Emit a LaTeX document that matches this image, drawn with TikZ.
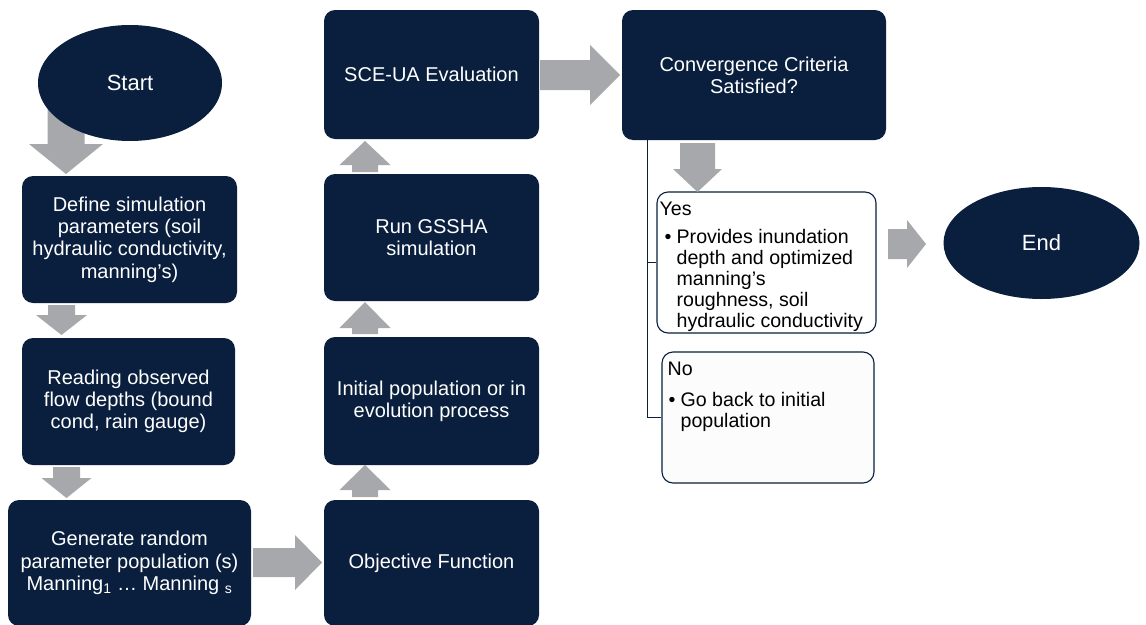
\documentclass[tikz,border=0pt]{standalone}
\usepackage{fontspec}
\setmainfont{Liberation Sans}
\usetikzlibrary{shapes.geometric,calc}
\definecolor{navy}{RGB}{10,31,62}
\definecolor{arrowgray}{RGB}{167,168,171}
\newcommand{\vblock}[6]{% cx, shaft end, head base, tip, half shaft, half head
  \fill[arrowgray] ({#1-#5},#2) -- ({#1+#5},#2) -- ({#1+#5},#3) -- ({#1+#6},#3) -- (#1,#4) -- ({#1-#6},#3) -- ({#1-#5},#3) -- cycle;}
\newcommand{\hblock}[6]{% cy, shaft start, head base, tip, half shaft, half head
  \fill[arrowgray] (#2,{#1-#5}) -- (#3,{#1-#5}) -- (#3,{#1-#6}) -- (#4,#1) -- (#3,{#1+#6}) -- (#3,{#1+#5}) -- (#2,{#1+#5}) -- cycle;}
\newcommand{\bulitem}[2]{\makebox[#2][l]{\hspace{#1}\textbullet}}
\begin{document}
\begin{tikzpicture}[x=1pt,y=-1pt,
  navybox/.style={draw=none,fill=navy,rounded corners=11pt,text=white,align=center,inner sep=2pt,
    font=\fontsize{20}{22.3}\selectfont},
  navyell/.style={ellipse,fill=navy,text=white,inner sep=0pt,font=\fontsize{22}{26}\selectfont},
  whitebox/.style={draw=navy,line width=1.1pt,fill=white,rounded corners=11pt,inner sep=0pt},
  boxtext/.style={anchor=north west,align=left,inner sep=0pt,text=black,font=\fontsize{19.6}{21}\selectfont},
  branch/.style={draw=navy,line width=1.3pt}]
\useasboundingbox (0,0) rectangle (1146,624);
\fill[white] (0,0) rectangle (1146,624);

% arrow behind start ellipse
\vblock{66}{105}{144}{174}{18.5}{37}

\node[navyell,minimum width=184pt,minimum height=116pt] (start) at (130,83) {Start};

\node[navybox,minimum width=215pt,minimum height=127pt] (def) at (129.5,239.5)
  {Define simulation\\parameters (soil\\hydraulic conductivity,\\manning’s)};
\node[navybox,minimum width=213pt,minimum height=127pt] (read) at (128.5,401.5)
  {Reading observed\\flow depths (bound\\cond, rain gauge)};
\node[navybox,minimum width=243pt,minimum height=126pt] (gen) at (129.5,563)
  {Generate random\\parameter population (s)\\Manning\textsubscript{1} … Manning \textsubscript{s}};
\node[navybox,minimum width=215pt,minimum height=126pt] (obj) at (431.5,563) {Objective Function};
\node[navybox,minimum width=215pt,minimum height=128pt] (init) at (431.5,401)
  {Initial population or in\\evolution process};
\node[navybox,minimum width=215pt,minimum height=127pt] (run) at (431.5,237.5)
  {Run GSSHA\\simulation};
\node[navybox,minimum width=215pt,minimum height=129pt] (sce) at (431.5,74.5) {SCE-UA Evaluation};
\node[navybox,minimum width=264pt,minimum height=130pt] (conv) at (754,75)
  {Convergence Criteria\\Satisfied?};
\node[whitebox,minimum width=219pt,minimum height=141pt] (yes) at (766.5,262.5) {};
\node[whitebox,fill=black!1,minimum width=212pt,minimum height=131pt] (no) at (768,417.5) {};
\node[navyell,minimum width=196pt,minimum height=112pt] (end) at (1041.5,243) {End};

% texts of the Yes / No boxes
\node[boxtext] (yestxt) at ($(yes.north west)+(3pt,-10pt)$)
  {Yes\\[7pt]%
   \bulitem{5pt}{17pt}Provides inundation\\
   \hspace*{17pt}depth and optimized\\
   \hspace*{17pt}manning’s\\
   \hspace*{17pt}roughness, soil\\
   \hspace*{17pt}hydraulic conductivity};
\node[boxtext] (notxt) at ($(no.north west)+(6pt,-10pt)$)
  {No\\[10pt]%
   \bulitem{1pt}{13pt}Go back to initial\\
   \hspace*{13pt}population};

% branch connector
\coordinate (cb) at ($(conv.south west)+(26pt,0)$);
\draw[branch] (cb) |- (yes.west);
\draw[branch] (cb) |- (no.west);

% block arrows
\vblock{61.5}{305}{315}{335}{13.5}{25.5}
\vblock{66.5}{467}{478}{498}{13.5}{25}
\hblock{562.5}{253}{295}{322}{14.5}{27.5}
\vblock{365}{497}{490}{465}{13}{25.5}
\vblock{365}{334}{328}{302}{13}{25.5}
\vblock{365}{172}{165}{141}{13}{25.5}
\hblock{75}{540}{590}{620}{15}{30}
\vblock{697.5}{143}{169}{192}{17.5}{24.5}
\hblock{244}{888}{907}{926}{15}{24}
\end{tikzpicture}
\end{document}
